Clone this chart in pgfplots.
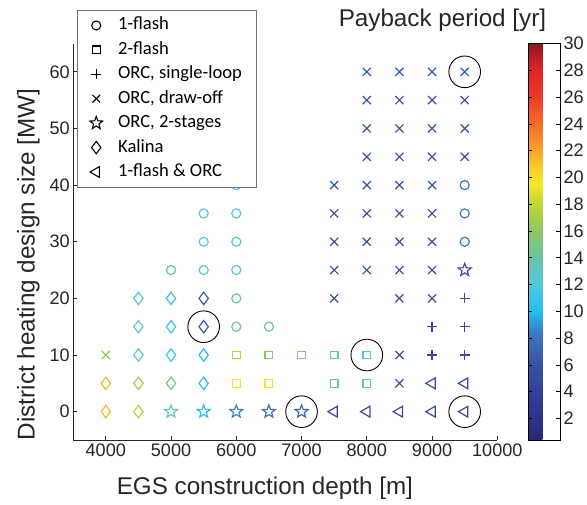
\documentclass[border=0pt]{standalone}
\usepackage{pgfplots}
\pgfplotsset{compat=1.18}
\usepackage{fontspec}
\setmainfont{Liberation Sans}
\newfontfamily\legfont{Carlito}
\usetikzlibrary{plotmarks}
\definecolor{axgray}{RGB}{38,38,38}

\pgfdeclareplotmark{pentastar}{%
 \pgfpathmoveto{\pgfqpointpolar{90}{\pgfplotmarksize}}%
 \pgfpathlineto{\pgfqpointpolar{126}{0.42\pgfplotmarksize}}%
 \pgfpathlineto{\pgfqpointpolar{162}{\pgfplotmarksize}}%
 \pgfpathlineto{\pgfqpointpolar{198}{0.42\pgfplotmarksize}}%
 \pgfpathlineto{\pgfqpointpolar{234}{\pgfplotmarksize}}%
 \pgfpathlineto{\pgfqpointpolar{270}{0.42\pgfplotmarksize}}%
 \pgfpathlineto{\pgfqpointpolar{306}{\pgfplotmarksize}}%
 \pgfpathlineto{\pgfqpointpolar{342}{0.42\pgfplotmarksize}}%
 \pgfpathlineto{\pgfqpointpolar{18}{\pgfplotmarksize}}%
 \pgfpathlineto{\pgfqpointpolar{54}{0.42\pgfplotmarksize}}%
 \pgfpathclose
 \pgfusepathqstroke
}

\pgfplotsset{
 /pgf/number format/assume math mode=true,
 colormap={payback}{
  rgb255(4pt)=(40,40,115);
  rgb255(20pt)=(45,50,140);
  rgb255(40pt)=(50,65,152);
  rgb255(60pt)=(55,84,164);
  rgb255(80pt)=(60,112,186);
  rgb255(90pt)=(50,145,212);
  rgb255(100pt)=(35,190,240);
  rgb255(120pt)=(85,200,225);
  rgb255(140pt)=(105,196,165);
  rgb255(160pt)=(140,200,100);
  rgb255(180pt)=(192,213,55);
  rgb255(195pt)=(242,233,40);
  rgb255(205pt)=(250,212,40);
  rgb255(220pt)=(248,165,40);
  rgb255(240pt)=(242,110,40);
  rgb255(260pt)=(235,60,40);
  rgb255(280pt)=(225,35,40);
  rgb255(300pt)=(140,25,30)
 },
}

\pgfplotstableread{
x y c
6000 15 14.5
6500 15 14.5
6000 20 14
5000 25 13.5
5500 25 13
6000 25 12.5
5500 30 12
6000 30 12
5500 35 11.8
6000 35 11.8
6000 40 11.5
9500 30 8.2
9500 35 8.2
9500 40 8.2
}\flashone

\pgfplotstableread{
x y c
6000 5 19.8
6500 5 19.2
7500 5 14
8000 5 13
6000 10 17.8
6500 10 16
7000 10 15.3
7500 10 12.8
8000 10 12
}\flashtwo

\pgfplotstableread{
x y c
9000 10 5
9500 10 5
9000 15 5
9500 15 5
9500 20 5
}\orcsingle

\pgfplotstableread{
x y c
4000 10 16.2
8500 5 5.3
8500 10 5.3
7500 20 5.8
8500 20 5.8
9000 20 5.8
7500 25 5.8
8000 25 5.8
8500 25 5.8
9000 25 5.8
7500 30 5.8
8000 30 5.8
8500 30 5.8
9000 30 5.8
7500 35 5.8
8000 35 5.8
8500 35 5.8
9000 35 5.8
7500 40 5.8
8000 40 5.8
8500 40 5.8
9000 40 5.8
8000 45 5.8
8500 45 5.8
9000 45 5.8
9500 45 5.8
8000 50 5.8
8500 50 5.8
9000 50 5.8
9500 50 5.8
8000 55 5.8
8500 55 5.8
9000 55 5.8
9500 55 5.8
8000 60 5.8
8500 60 5.8
9000 60 5.8
9500 60 5.8
}\orcdraw

\pgfplotstableread{
x y c
5000 0 13.2
5500 0 10.3
6000 0 8.7
6500 0 8
7000 0 7.6
9500 25 5.5
}\orctwo

\pgfplotstableread{
x y c
4000 0 21.5
4500 0 17.6
4000 5 21.5
4500 5 16.8
5000 5 15
5500 5 10.3
4500 10 12.5
5000 10 11.3
5500 10 10
4500 15 12.5
5000 15 10.8
5500 15 6.3
4500 20 12.5
5000 20 10.8
5500 20 6.3
}\kalina

\pgfplotstableread{
x y c
7500 0 5
8000 0 5
8500 0 5
9000 0 5
9500 0 5
9000 5 5
9500 5 5
}\flashorc

\begin{document}
\begin{tikzpicture}
\begin{axis}[
 scale only axis, width=429bp, height=401bp,
 xmin=3500, xmax=10000, ymin=-5, ymax=65,
 axis lines*=left,
 axis line style={-, axgray, line width=0.7bp},
 xtick={4000,5000,...,10000}, ytick={0,10,...,60},
 tick align=inside, major tick length=4bp,
 tick style={axgray, line width=0.7bp},
 scaled x ticks=false,
 /pgf/number format/1000 sep={},
 ticklabel style={font=\fontsize{18.3bp}{21bp}\selectfont, text=axgray},
 xlabel={EGS construction depth [m]},
 ylabel={District heating design size [MW]},
 label style={font=\fontsize{24.5bp}{28bp}\selectfont, text=axgray},
 xlabel style={at={(axis description cs:0.452,-0.137)}, anchor=base},
 ylabel style={at={(axis description cs:-0.0909,0.443)}, anchor=base},
 colormap name=payback,
 point meta min=0.4, point meta max=30,
 colorbar,
 colorbar style={
   at={(parent axis.north east)}, anchor=north west, xshift=23bp,
   scale only axis, width=32bp,
   ytick={2,4,...,30},
   ytick pos=both, yticklabel pos=right,
   tick align=inside, major tick length=4bp,
   tick style={black, line width=0.7bp},
   axis line style={black, line width=0.9bp},
   yticklabel style={font=\fontsize{18.3bp}{21bp}\selectfont, text=axgray},
 },
 scatter/use mapped color={draw=mapped color, fill=mapped color},
 legend style={at={(axis description cs:0.0093,1.0848)}, anchor=north west,
   font=\legfont\fontsize{18.8bp}{22bp}\selectfont, draw=black!55, line width=0.8bp,
   fill=white, inner xsep=12.5bp, inner ysep=3bp, row sep=0bp, column sep=13.7bp,
   nodes={inner xsep=2bp, inner ysep=4.35bp, text height=12.5bp, text depth=3.5bp}},
 legend cell align=left,
]
\addplot[scatter, only marks, mark=o, mark size=4.6bp, line width=1.2bp, point meta=explicit, forget plot] table[meta=c] {\flashone};
\addplot[scatter, only marks, mark=square, mark size=3.9bp, line width=1.2bp, point meta=explicit, forget plot] table[meta=c] {\flashtwo};
\addplot[scatter, only marks, mark=+, mark size=5bp, line width=1.2bp, point meta=explicit, forget plot] table[meta=c] {\orcsingle};
\addplot[scatter, only marks, mark=x, mark size=5.8bp, line width=1.2bp, point meta=explicit, forget plot] table[meta=c] {\orcdraw};
\addplot[scatter, only marks, mark=pentastar, mark size=6.8bp, line width=1.2bp, point meta=explicit, forget plot] table[meta=c] {\orctwo};
\addplot[scatter, only marks, mark=diamond, mark size=6.3bp, line width=1.2bp, point meta=explicit, forget plot] table[meta=c] {\kalina};
\addplot[scatter, only marks, mark=triangle, mark size=6.3bp, mark options={rotate=90}, line width=1.2bp, point meta=explicit, forget plot] table[meta=c] {\flashorc};
\addplot[only marks, mark=o, mark size=16bp, black, line width=0.9bp, forget plot] coordinates {(5500,15) (7000,0) (8000,10) (9500,60) (9500,0)};

\addlegendimage{only marks, mark=o, mark size=4.6bp, black, line width=1.1bp}
\addlegendentry{1-flash}
\addlegendimage{only marks, mark=square, mark size=3.9bp, black, line width=1.1bp}
\addlegendentry{2-flash}
\addlegendimage{only marks, mark=+, mark size=5bp, black, line width=0.8bp}
\addlegendentry{ORC, single-loop}
\addlegendimage{only marks, mark=x, mark size=5.5bp, black, line width=1.1bp}
\addlegendentry{ORC, draw-off}
\addlegendimage{only marks, mark=pentastar, mark size=6.8bp, black, line width=1.1bp}
\addlegendentry{ORC, 2-stages}
\addlegendimage{only marks, mark=diamond, mark size=6.3bp, black, line width=1.1bp}
\addlegendentry{Kalina}
\addlegendimage{only marks, mark=triangle, mark size=6.3bp, mark options={rotate=90}, black, line width=1.1bp}
\addlegendentry{1-flash \& ORC}
\end{axis}
\node[font=\fontsize{24.5bp}{28bp}\selectfont, text=axgray, anchor=base] at (373.5bp,417.7bp) {Payback period [yr]};
\path[use as bounding box] (-74bp,-65bp) rectangle (513bp,445bp);
\end{tikzpicture}
\end{document}
